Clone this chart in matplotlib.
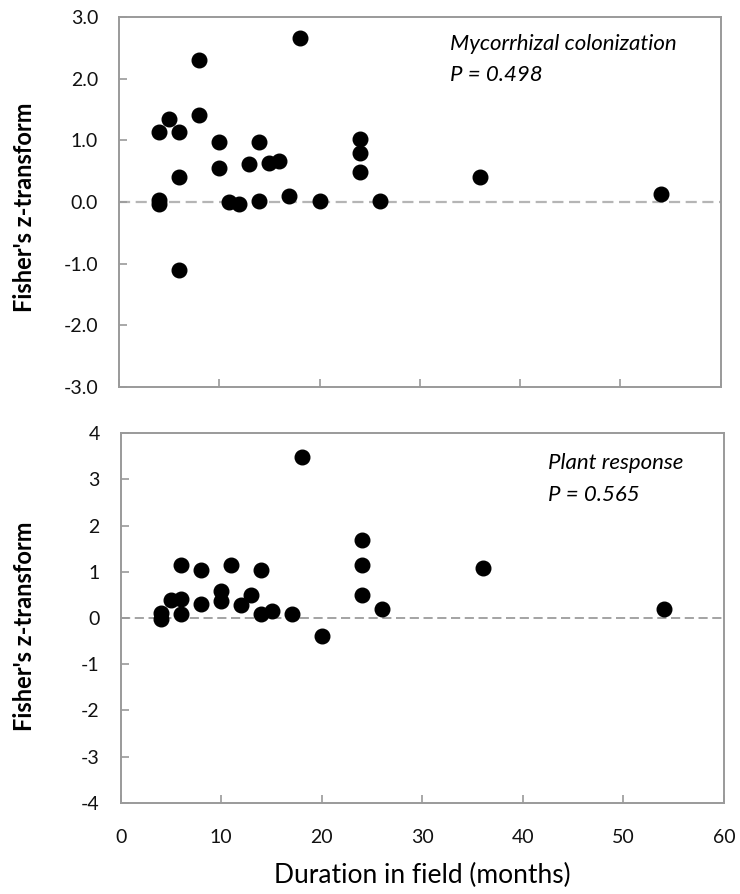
"""Fisher's z-transform effect sizes against time spent in the field."""

import matplotlib

matplotlib.use("Agg")
import matplotlib.pyplot as plt
from matplotlib.ticker import FormatStrFormatter

plt.rcParams["font.family"] = ["Lato", "DejaVu Sans"]

# Mycorrhizal colonization effect sizes
months_myc = [4, 4, 4, 5, 6, 6, 6, 8, 8, 10, 10, 11, 12, 13, 14, 14,
              15, 16, 17, 18, 20, 24, 24, 24, 26, 36, 54]
z_myc = [1.14, 0.03, -0.03, 1.35, 1.14, 0.41, -1.10, 2.31, 1.42, 0.98, 0.55,
         0.00, -0.03, 0.62, 0.98, 0.02, 0.64, 0.66, 0.10, 2.67, 0.02, 1.02,
         0.79, 0.49, 0.02, 0.41, 0.13]

# Plant response effect sizes
months_plant = [4, 4, 5, 6, 6, 6, 8, 8, 10, 10, 11, 12, 13, 14, 14, 15,
                17, 18, 20, 24, 24, 24, 26, 36, 54]
z_plant = [0.10, -0.03, 0.38, 1.15, 0.42, 0.08, 1.05, 0.30, 0.58, 0.36, 1.15,
           0.28, 0.50, 1.05, 0.08, 0.15, 0.08, 3.48, -0.40, 1.68, 1.15, 0.50,
           0.19, 1.09, 0.19]

x_ticks = [0, 10, 20, 30, 40, 50, 60]
yticks_myc = [-3, -2, -1, 0, 1, 2, 3]
yticks_plant = [-4, -3, -2, -1, 0, 1, 2, 3, 4]

SPINE = "#9a9a9a"

fig = plt.figure(figsize=(7.4, 8.94), dpi=100)
fig.patch.set_facecolor("white")

ax_top = fig.add_axes([0.1608, 0.5674, 0.8131, 0.4132])
ax_bot = fig.add_axes([0.1631, 0.1021, 0.8153, 0.4132])


def style_axis(ax, yticks, fmt):
    ax.set_xlim(0, 60)
    ax.set_ylim(yticks[0], yticks[-1])
    ax.set_xticks(x_ticks)
    ax.set_yticks(yticks)
    ax.yaxis.set_major_formatter(FormatStrFormatter(fmt))
    for spine in ax.spines.values():
        spine.set_color(SPINE)
        spine.set_linewidth(1.4)
    ax.tick_params(axis="both", direction="in", length=6, width=1.2,
                   color=SPINE, labelsize=14, labelcolor="#111111")
    ax.tick_params(axis="y", pad=15)
    ax.tick_params(axis="x", pad=19)
    ax.set_ylabel("Fisher's z-transform", fontsize=17, fontweight="bold")


# Top panel: mycorrhizal colonization
ax_top.axhline(0, color="#b5b5b5", linestyle=(0, (5, 2.5)), linewidth=1.6, zorder=1)
ax_top.plot(months_myc, z_myc, "o", color="black", markersize=10.5, zorder=3)
style_axis(ax_top, yticks_myc, "%.1f")
ax_top.tick_params(axis="x", labelbottom=False)
ax_top.yaxis.set_label_coords(-0.138, 0.485)
ax_top.text(0.55, 0.929, "Mycorrhizal colonization", transform=ax_top.transAxes,
            fontsize=16, fontstyle="italic", va="center", ha="left")
ax_top.text(0.55, 0.843, "P = 0.498", transform=ax_top.transAxes,
            fontsize=16, fontstyle="italic", va="center", ha="left")

# Bottom panel: plant response
ax_bot.axhline(0, color="#8a8a8a", linestyle=(0, (6, 3)), linewidth=1.1, zorder=1)
ax_bot.plot(months_plant, z_plant, "o", color="black", markersize=10.5, zorder=3)
style_axis(ax_bot, yticks_plant, "%d")
ax_bot.yaxis.set_label_coords(-0.140, 0.478)
ax_bot.text(0.708, 0.921, "Plant response", transform=ax_bot.transAxes,
            fontsize=16, fontstyle="italic", va="center", ha="left")
ax_bot.text(0.708, 0.834, "P = 0.565", transform=ax_bot.transAxes,
            fontsize=16, fontstyle="italic", va="center", ha="left")
ax_bot.set_xlabel("Duration in field (months)", fontsize=19)
ax_bot.xaxis.set_label_coords(0.5, -0.163)

fig.savefig("out.png", dpi=100)
plt.close(fig)
